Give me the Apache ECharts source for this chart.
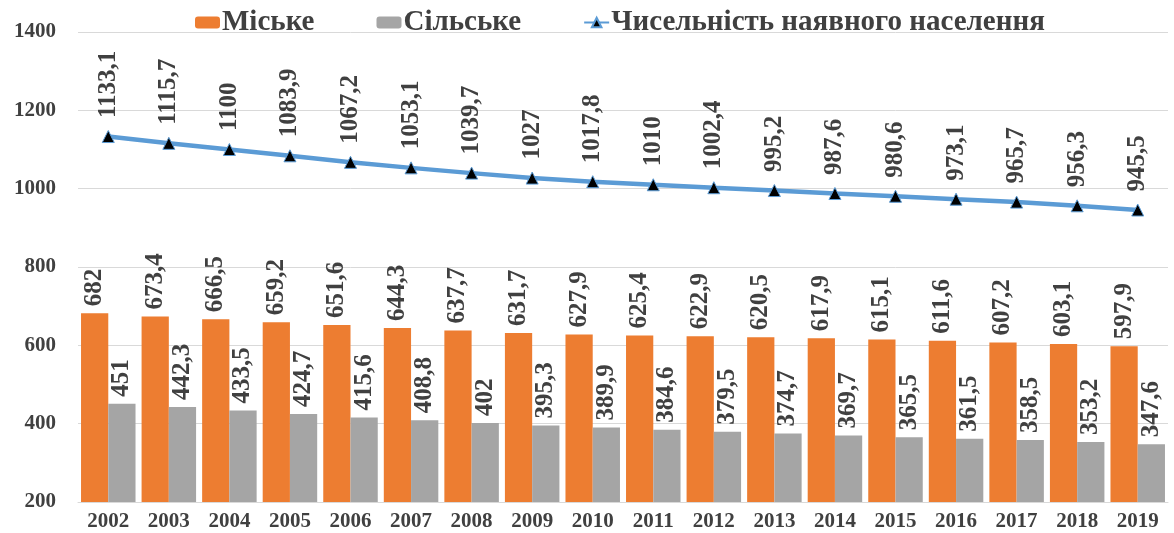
<!DOCTYPE html>
<html>
<head>
<meta charset="utf-8">
<script src="https://cdn.jsdelivr.net/npm/echarts@6/dist/echarts.min.js"></script>
<style>
  * { margin: 0; padding: 0; }
  body { background: #fff; }
</style>
</head>
<body>
<div id="main" style="width: 1174px;height: 533px;"></div>
<script>
  // data
  var years = ['2002','2003','2004','2005','2006','2007','2008','2009','2010','2011','2012','2013','2014','2015','2016','2017','2018','2019']
  var urban = [682, 673.4, 666.5, 659.2, 651.6, 644.3, 637.7, 631.7, 627.9, 625.4, 622.9, 620.5, 617.9, 615.1, 611.6, 607.2, 603.1, 597.9]
  var rural = [451, 442.3, 433.5, 424.7, 415.6, 408.8, 402, 395.3, 389.9, 384.6, 379.5, 374.7, 369.7, 365.5, 361.5, 358.5, 353.2, 347.6]
  var total = [1133.1, 1115.7, 1100, 1083.9, 1067.2, 1053.1, 1039.7, 1027, 1017.8, 1010, 1002.4, 995.2, 987.6, 980.6, 973.1, 965.7, 956.3, 945.5]
  var names = ['Міське', 'Сільське', 'Чисельність наявного населення']

  var font = '"Liberation Serif", "Times New Roman", serif'
  var textColor = '#404040'

  function fmt(p) {
    return String(p.value).replace('.', ',')
  }

  var labelStyle = {
    show: true,
    rotate: 90,
    align: 'left',
    verticalAlign: 'middle',
    distance: 7,
    fontFamily: font,
    fontWeight: 'bold',
    fontSize: 25,
    color: textColor,
    formatter: fmt
  }

  var chart = echarts.init(document.getElementById('main'))
  chart.setOption({
    animation: false,
    legend: {
      top: 3,
      left: 190,
      itemGap: 62,
      itemWidth: 25,
      itemHeight: 12,
      textStyle: { fontFamily: font, fontWeight: 'bold', fontSize: 29, color: textColor, padding: [0, 0, 0, -3] },
      data: names
    },
    grid: { left: 78, right: 6, top: 32, bottom: 31 },
    xAxis: {
      type: 'category',
      data: years,
      axisTick: { show: false },
      axisLine: { lineStyle: { color: '#d9d9d9', width: 1 } },
      axisLabel: { fontFamily: font, fontWeight: 'bold', fontSize: 21, color: textColor, margin: 9 }
    },
    yAxis: {
      type: 'value',
      min: 200,
      max: 1400,
      interval: 200,
      axisLine: { show: false },
      axisTick: { show: false },
      splitLine: { lineStyle: { color: '#d9d9d9', width: 1 } },
      axisLabel: {
        fontFamily: font, fontWeight: 'bold', fontSize: 21, color: textColor, margin: 22,
        formatter: function (v) { return String(v) }
      }
    },
    series: [
      {
        name: names[0],
        type: 'bar',
        data: urban,
        barGap: '0%',
        barCategoryGap: '10%',
        itemStyle: { color: '#ED7D31' },
        label: Object.assign({ position: 'top' }, labelStyle)
      },
      {
        name: names[1],
        type: 'bar',
        data: rural,
        itemStyle: { color: '#A5A5A5' },
        label: Object.assign({ position: 'top' }, labelStyle)
      },
      {
        name: names[2],
        type: 'line',
        data: total,
        symbol: 'triangle',
        symbolSize: 12,
        lineStyle: { color: '#5B9BD5', width: 4.5 },
        itemStyle: { color: '#000', borderColor: '#5B9BD5', borderWidth: 1 },
        label: Object.assign({}, labelStyle, { position: 'top', distance: 12 })
      }
    ]
  })
</script>
</body>
</html>
